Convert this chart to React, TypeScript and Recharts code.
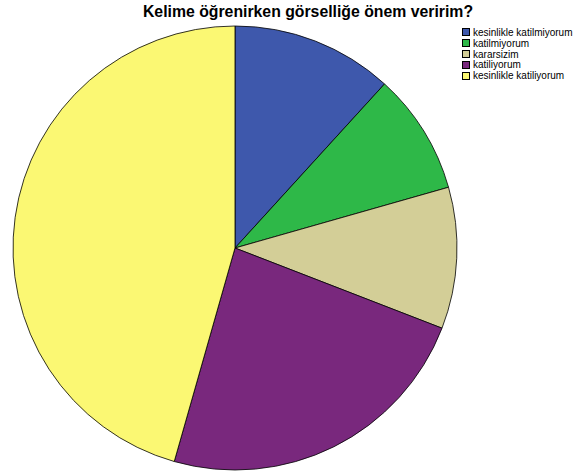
import React from 'react';
import { Cell, Legend, Pie, PieChart } from 'recharts';

const categories = [
  'kesinlikle katilmiyorum',
  'katilmiyorum',
  'kararsizim',
  'katiliyorum',
  'kesinlikle katiliyorum',
];
const counts = [8, 6, 7, 16, 31];
const colors = ['#3e58ac', '#2eb848', '#d3ce97', '#79287d', '#fbf873'];

const title = 'Kelime öğrenirken görselliğe önem veririm?';

const data = categories.map((name, i) => ({ name, value: counts[i] }));

const renderLegend = () => (
  <div style={{ fontFamily: '"Liberation Sans", Arial, sans-serif', fontSize: 10, color: '#000' }}>
    {categories.map((name, i) => (
      <div key={name} style={{ display: 'flex', alignItems: 'center', height: 10.8 }}>
        <span
          style={{
            display: 'inline-block',
            width: 8,
            height: 8,
            background: colors[i],
            border: '1px solid #000',
            boxSizing: 'border-box',
            marginRight: 3,
          }}
        />
        <span>{name}</span>
      </div>
    ))}
  </div>
);

export default function App() {
  return (
    <div style={{ position: 'absolute', left: 0, top: 0, width: 574, height: 474, background: '#fff' }}>
      <div
        style={{
          position: 'absolute',
          left: 42,
          top: 3,
          width: 532,
          textAlign: 'center',
          fontFamily: '"Liberation Sans", Arial, sans-serif',
          fontWeight: 'bold',
          fontSize: 15.8,
        }}
      >
        {title}
      </div>
      <PieChart width={574} height={474} margin={{ top: 0, right: 0, bottom: 0, left: 0 }}>
        <Pie
          data={data}
          dataKey="value"
          nameKey="name"
          cx={235}
          cy={248}
          outerRadius={222}
          startAngle={90}
          endAngle={-270}
          stroke="#000"
          strokeWidth={0.8}
          isAnimationActive={false}
        >
          {data.map((d, i) => (
            <Cell key={d.name} fill={colors[i]} />
          ))}
        </Pie>
        <Legend
          layout="vertical"
          align="right"
          verticalAlign="top"
          content={renderLegend}
          wrapperStyle={{ position: 'absolute', left: 462, top: 27, width: 112 }}
        />
      </PieChart>
    </div>
  );
}
